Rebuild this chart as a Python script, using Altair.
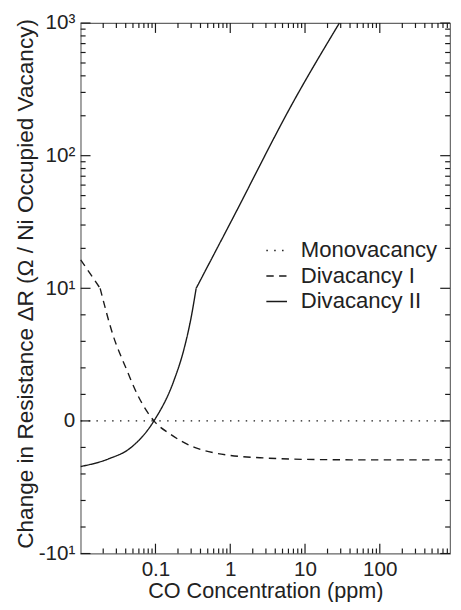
import altair as alt
import pandas as pd
import math

# ---------------- data ----------------
series_names = ["Monovacancy", "Divacancy I", "Divacancy II"]
series_dash = [[1.5, 6.5], [7.5, 5.5], [1, 0]]

mono_conc = [0.01, 870]
mono_res = [0, 0]

div1_conc = [0.01, 0.0182, 0.0273, 0.0407, 0.0578, 0.0954, 0.158, 0.333, 0.6, 1, 3, 10, 100, 870]
div1_res = [16.4, 10.0, 6.4, 3.93, 1.95, 0, -1.0, -2.0, -2.4, -2.6, -2.8, -2.9, -2.94, -2.94]

div2_conc = [0.01, 0.0234, 0.0472, 0.0954, 0.174, 0.247, 0.302, 0.35, 1, 7.39, 28.8]
div2_res = [-3.44, -2.87, -2.0, 0, 2.95, 5.66, 7.89, 10, 31, 270, 1000]

x_major = [0.1, 1, 10, 100]
x_minor = [0.02, 0.03, 0.04, 0.05, 0.06, 0.07, 0.08, 0.09,
           0.2, 0.3, 0.4, 0.5, 0.6, 0.7, 0.8, 0.9,
           2, 3, 4, 5, 6, 7, 8, 9,
           20, 30, 40, 50, 60, 70, 80, 90,
           200, 300, 400, 500, 600, 700, 800]
y_major = [-10, 0, 10, 100, 1000]
y_labels = ["-10¹", "0", "10¹", "10²", "10³"]
y_minor = [-8, -6, -4, -2, 2, 4, 6, 8,
           20, 30, 40, 50, 60, 70, 80, 90,
           200, 300, 400, 500, 600, 700, 800, 900]

X_DOMAIN = [0.01, 870]

# ---------------- helpers ----------------
def sym(v):
    if abs(v) <= 10:
        return v / 10.0
    return math.copysign(math.log10(abs(v)), v)

T_EXPR = "abs(datum.r) <= 10 ? datum.r / 10 : (datum.r > 0 ? 1 : -1) * log(abs(datum.r)) / LN10"

rows = []
for name, cs, rs in [(series_names[0], mono_conc, mono_res),
                     (series_names[1], div1_conc, div1_res),
                     (series_names[2], div2_conc, div2_res)]:
    for i, (c, r) in enumerate(zip(cs, rs)):
        if abs(r) <= 10:
            rows.append({"series": name, "seg": name + "-lin", "conc": c, "r": r, "order": i})
        if abs(r) >= 10:
            rows.append({"series": name, "seg": name + "-log", "conc": c, "r": r, "order": i})
lines_df = pd.DataFrame(rows)

y_vals = [sym(v) for v in y_major]
label_expr = " : ".join(
    f"abs(datum.value - ({t})) < 1e-6 ? '{lab}'" for t, lab in zip(y_vals, y_labels)
) + " : ''"

FONT = "Liberation Sans"
INK = "#1a1a1a"
W, H = 376, 540
MAJ, MIN = 10, 5

x_scale = alt.Scale(type="log", domain=X_DOMAIN, nice=False)
y_scale = alt.Scale(domain=[-1, 3], nice=False, zero=False)

X_AXIS = alt.Axis(orient="bottom", values=x_major, format="~g", ticks=False, domain=False,
                  grid=False, labelFontSize=21, labelFont=FONT, labelColor="#222222",
                  labelPadding=5, title="CO Concentration (ppm)", titleFontSize=22,
                  titleFont=FONT, titleFontWeight="normal", titleColor="#222222", titlePadding=2)
Y_AXIS = alt.Axis(orient="left", values=y_vals, labelExpr=label_expr, ticks=False,
                  domain=False, grid=False, labelFontSize=21, labelFont=FONT,
                  labelColor="#222222", labelPadding=6,
                  title="Change in Resistance ΔR (Ω / Ni Occupied Vacancy)",
                  titleFontSize=23, titleFont=FONT, titleFontWeight="normal",
                  titleColor="#222222", titleX=-56, titleY=H / 2 - 5, titleBaseline="middle")

# ---------------- inward tick marks ----------------
ytick_df = pd.DataFrame([{"r": v, "kind": "major", "len": MAJ} for v in y_major] +
                        [{"r": v, "kind": "minor", "len": MIN} for v in y_minor])
xtick_df = pd.DataFrame([{"conc": v, "kind": "major", "len": MAJ} for v in x_major] +
                        [{"conc": v, "kind": "minor", "len": MIN} for v in x_minor])

def ytick(kind, x0, x1):
    return alt.Chart(ytick_df).transform_filter(
        alt.datum.kind == kind
    ).transform_calculate(t=T_EXPR).mark_rule(
        color=INK, strokeWidth=1.2
    ).encode(y=alt.Y("t:Q", scale=y_scale, axis=None), x=alt.value(x0), x2=alt.value(x1))

def xtick(kind, y0, y1):
    return alt.Chart(xtick_df).transform_filter(
        alt.datum.kind == kind
    ).mark_rule(color=INK, strokeWidth=1.2).encode(
        x=alt.X("conc:Q", scale=x_scale, axis=None), y=alt.value(y0), y2=alt.value(y1))

tick_layers = [
    ytick("major", 0, MAJ), ytick("minor", 0, MIN),
    ytick("major", W - MAJ, W), ytick("minor", W - MIN, W),
    xtick("major", H - MAJ, H), xtick("minor", H - MIN, H),
    xtick("major", 0, MAJ), xtick("minor", 0, MIN),
]

# ---------------- curves ----------------
lines = alt.Chart(lines_df).transform_calculate(t=T_EXPR).mark_line(
    color=INK, strokeWidth=1.4, interpolate="monotone"
).encode(
    x=alt.X("conc:Q", scale=x_scale, axis=X_AXIS),
    y=alt.Y("t:Q", scale=y_scale, axis=Y_AXIS),
    strokeDash=alt.StrokeDash("series:N",
                              scale=alt.Scale(domain=series_names, range=series_dash),
                              legend=alt.Legend(title=None, orient="none", legendX=188, legendY=220,
                                                symbolType="stroke", symbolSize=441,
                                                symbolStrokeWidth=1.4, symbolStrokeColor=INK,
                                                labelFontSize=22.5, labelFont=FONT,
                                                labelColor="#222222",
                                                labelOffset=13, rowPadding=3, padding=0)),
    detail="seg:N",
    order="order:Q",
)

chart = alt.layer(*tick_layers, lines).resolve_axis(
    x="independent", y="independent"
).properties(
    width=W, height=H,
    autosize=alt.AutoSizeParams(type="none"),
    padding={"left": 74, "top": 10, "right": 3, "bottom": 44},
    background="white",
).configure_view(stroke="#666666", strokeWidth=1.2)

chart.save("out.html", embed_options={"renderer": "svg", "actions": False})
